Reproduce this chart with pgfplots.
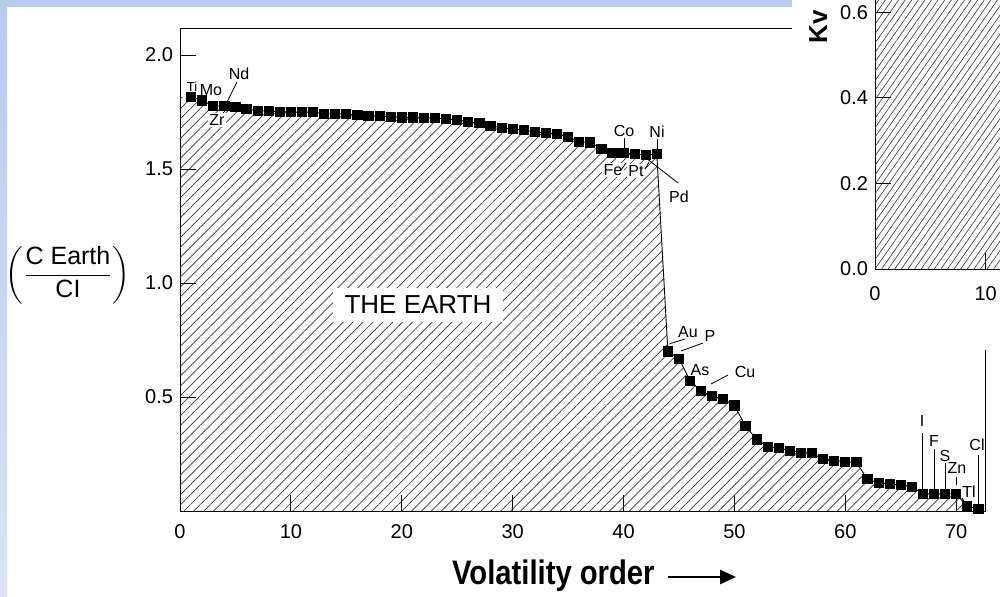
\documentclass[border=0pt]{standalone}
\usepackage{fontspec}
\setmainfont{Liberation Sans}
\usepackage{amsmath}
\usepackage{pgfplots}
\pgfplotsset{compat=1.18}
\usepackage{pgfplotstable}
\usetikzlibrary{patterns.meta,arrows.meta}
\definecolor{bandA}{RGB}{184,203,237}
\definecolor{bandB}{RGB}{218,227,245}

\pgfplotstableread{
x y
1 1.815
2 1.800
3 1.776
4 1.776
5 1.771
6 1.763
7 1.756
8 1.754
9 1.751
10 1.749
11 1.749
12 1.749
13 1.742
14 1.742
15 1.740
16 1.737
17 1.734
18 1.732
19 1.729
20 1.726
21 1.726
22 1.725
23 1.723
24 1.719
25 1.715
26 1.706
27 1.700
28 1.690
29 1.681
30 1.675
31 1.671
32 1.662
33 1.658
34 1.654
35 1.640
36 1.620
37 1.616
38 1.588
39 1.570
40 1.570
41 1.566
42 1.560
43 1.566
44 0.700
45 0.668
46 0.571
47 0.527
48 0.503
49 0.490
50 0.463
51 0.373
52 0.314
53 0.282
54 0.277
55 0.264
56 0.256
57 0.253
58 0.227
59 0.221
60 0.216
61 0.214
62 0.139
63 0.124
64 0.118
65 0.114
66 0.107
67 0.075
68 0.075
69 0.075
70 0.075
71 0.022
72 0.008
}\earth

\begin{document}
\begin{tikzpicture}
\useasboundingbox (0,0) rectangle (500pt,298pt);
\clip (0,0) rectangle (500pt,298pt);
\fill[white] (0,0) rectangle (500pt,298pt);
% slide background bands
\shade[top color=bandA, bottom color=bandB] (0,0) rectangle (3.5pt,298pt);
\fill[bandA] (0,294.5pt) rectangle (396pt,298pt);

\begin{axis}[
  at={(90pt,42.5pt)}, anchor=south west,
  scale only axis, width=402.5pt, height=241.5pt,
  xmin=0, xmax=72.6, ymin=0, ymax=2.118,
  axis line style={line width=0.5pt},
  xtick={0,10,...,70}, ytick={0.5,1,1.5,2},
  xtick pos=left, ytick pos=left, tick align=inside,
  major tick length=8pt,
  tick style={line width=0.4pt, black},
  /pgf/number format/assume math mode=true,
  ticklabel style={font=\fontsize{10}{12}\selectfont},
  yticklabel style={/pgf/number format/fixed,/pgf/number format/fixed zerofill,/pgf/number format/precision=1},
  xticklabel style={yshift=-3pt},
]
\addplot[draw=none, pattern={Lines[angle=45,distance=3.5pt,line width=0.35pt]}, pattern color=black!80]
  coordinates {(0,1.815) (1,1.815)} \closedcycle;
\addplot[draw=none, pattern={Lines[angle=45,distance=3.5pt,line width=0.35pt]}, pattern color=black!80]
  table {\earth} \closedcycle;
\addplot[black, line width=0.45pt, mark=square*, mark size=2.3pt] table {\earth};
\end{axis}

% white area of the inset figure
\fill[white] (396pt,123pt) rectangle (500pt,298pt);

\begin{axis}[
  at={(437.5pt,163.5pt)}, anchor=south west,
  scale only axis, width=66.4pt, height=160.5pt,
  xmin=0, xmax=12, ymin=0, ymax=0.75,
  axis line style={line width=0.5pt},
  xtick={0,10}, ytick={0,0.2,0.4,0.6},
  xtick pos=left, ytick pos=left, tick align=inside,
  major tick length=8pt,
  tick style={line width=0.4pt, black},
  /pgf/number format/assume math mode=true,
  ticklabel style={font=\fontsize{10}{12}\selectfont},
  yticklabel style={/pgf/number format/fixed,/pgf/number format/fixed zerofill,/pgf/number format/precision=1},
  xticklabel style={yshift=-5pt},
]
\addplot[draw=none, pattern={Lines[angle=55,distance=2.7pt,line width=0.3pt]}, pattern color=black!80]
  coordinates {(0,0.75) (12,0.75)} \closedcycle;
\end{axis}

\node[rotate=90, anchor=base west, inner sep=0pt, font=\bfseries\fontsize{13}{14}\selectfont] at (413.5pt,276pt) {Kv};

% y label
\node[font=\fontsize{12.5}{15}\selectfont] at (34pt,160.5pt)
  {$\left(\dfrac{\text{C Earth}}{\text{CI}}\right)$};

% x label
\node[anchor=base east, inner sep=0pt, font=\bfseries\fontsize{17}{20}\selectfont] at (327.5pt,6pt)
  {\scalebox{0.86}[1]{Volatility order}};
\draw[line width=1.3pt, -{Triangle[length=8pt,width=7pt]}] (334pt,9.5pt) -- (368pt,9.5pt);

\begin{scope}[shift={(0,298pt)}, x=0.5pt, y=-0.5pt]
  \node[font=\fontsize{13}{15}\selectfont, fill=white, inner xsep=6pt, inner ysep=4pt] at (418,305) {THE EARTH};
  \begin{scope}[every node/.style={font=\fontsize{8}{9}\selectfont, inner sep=0.6pt}]
    \node[font=\fontsize{6.5}{7}\selectfont] at (192,87) {Ti};
    \node at (211,90) {Mo};
    \node at (239,74) {Nd};
    \node[fill=white] at (217,120) {Zr};
    \node at (624,131) {Co};
    \node at (657,132) {Ni};
    \node[fill=white] at (613,170) {Fe};
    \node[fill=white] at (636,171) {Pt};
    \node at (679,197) {Pd};
    \node at (688,332) {Au};
    \node at (710,336) {P};
    \node at (700,370) {As};
    \node at (745,372) {Cu};
    \node at (922,421) {I};
    \node at (934,441) {F};
    \node at (945,456) {S};
    \node at (957,468) {Zn};
    \node at (969,492) {Tl};
    \node at (977,445) {Cl};
  \end{scope}
  \begin{scope}[line width=0.4pt]
    \draw (237,82) -- (227,102);
    \draw (223,113) -- (230,105);
    \draw (624,138) -- (624,148);
    \draw (657,139) -- (657,149);
    \draw (621,170) -- (626,163);
    \draw (645,169) -- (649,162);
    \draw (646,158) -- (678,183);
    \draw (669,344) -- (685,339);
    \draw (681,351) -- (703,343);
    \draw (711,384) -- (728,375);
    \draw (922,433) -- (922,490);
    \draw (934,449) -- (934,490);
    \draw (945,463) -- (945,490);
    \draw (956,477) -- (956,485);
    \draw (978,455) -- (978,505);
    \draw (962,498) -- (965,503);
  \end{scope}
\end{scope}
\end{tikzpicture}
\end{document}
